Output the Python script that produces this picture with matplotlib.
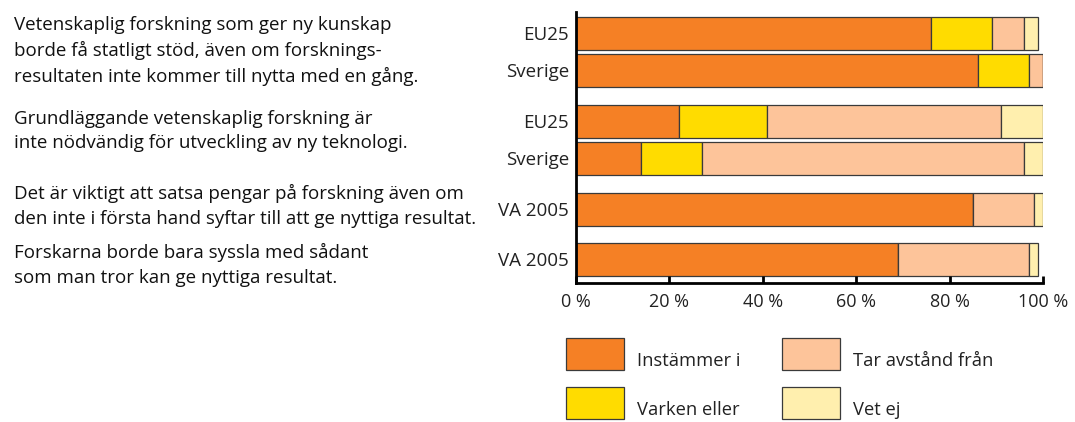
import matplotlib
matplotlib.use("Agg")
import matplotlib.pyplot as plt
from matplotlib.patches import Rectangle

plt.rcParams['font.family'] = ['Open Sans', 'DejaVu Sans']

# Data (percent of answers)
groups = ["EU25", "Sverige", "EU25", "Sverige", "VA 2005", "VA 2005"]
instammer = [76, 86, 22, 14, 85, 69]
varken = [13, 11, 19, 13, 0, 0]
tar_avstand = [7, 3, 50, 69, 13, 28]
vet_ej = [3, 0, 9, 4, 2, 2]
series_names = ["Instämmer i", "Varken eller", "Tar avstånd från", "Vet ej"]
colors = ["#F58025", "#FFDC00", "#FDC49A", "#FFEFAE"]

statements = [
    "Vetenskaplig forskning som ger ny kunskap\nborde få statligt stöd, även om forsknings-\nresultaten inte kommer till nytta med en gång.",
    "Grundläggande vetenskaplig forskning är\ninte nödvändig för utveckling av ny teknologi.",
    "Det är viktigt att satsa pengar på forskning även om\nden inte i första hand syftar till att ge nyttiga resultat.",
    "Forskarna borde bara syssla med sådant\nsom man tror kan ge nyttiga resultat.",
]

W, H = 1075, 422
fig = plt.figure(figsize=(W / 100, H / 100), dpi=100)

# axes placed in pixel terms of the reference
ax_left, ax_right, ax_top, ax_bottom = 576, 1043, 12, 283
ax = fig.add_axes([ax_left / W, 1 - ax_bottom / H,
                   (ax_right - ax_left) / W, (ax_bottom - ax_top) / H])

# bar centres (pixel rows of the reference), bars come in pairs
ypos = [33, 70, 121, 158, 209, 259]
bar_h = 33

left = [0] * len(groups)
for vals, col in zip([instammer, varken, tar_avstand, vet_ej], colors):
    ax.barh(ypos, vals, left=left, height=bar_h, color=col,
            edgecolor="#3a3a3a", linewidth=0.9)
    left = [l + v for l, v in zip(left, vals)]

ax.set_xlim(0, 100)
ax.set_ylim(ax_bottom, ax_top)
ax.set_yticks(ypos)
ax.set_yticklabels(groups, fontsize=13.5, color="#222222")
ax.tick_params(axis="y", length=0, pad=5)
ax.set_xticks([0, 20, 40, 60, 80, 100])
ax.set_xticklabels([f"{t} %" for t in range(0, 101, 20)], fontsize=13,
                   color="#222222")
ax.tick_params(axis="x", direction="in", length=5, width=2, pad=7)
for s in ["top", "right"]:
    ax.spines[s].set_visible(False)
ax.spines["left"].set_linewidth(2)
ax.spines["bottom"].set_linewidth(2)

# statements on the left
text_y = [51, 131, 206, 265]
for txt, y in zip(statements, text_y):
    fig.text(14 / W, 1 - y / H, txt, fontsize=13.5, va="center", ha="left",
             linespacing=1.45, color="#111111")

# legend drawn by hand
lax = fig.add_axes([0, 0, 1, 1])
lax.set_xlim(0, W)
lax.set_ylim(H, 0)
lax.axis("off")
box_x = [566, 566, 782, 782]
box_y = [338, 387, 338, 387]
for name, col, bx, by in zip(series_names, colors, box_x, box_y):
    lax.add_patch(Rectangle((bx, by), 58, 32, facecolor=col,
                            edgecolor="#3a3a3a", linewidth=0.9))
    lax.text(bx + 71, by + 23, name, fontsize=13.2, va="center", ha="left",
             color="#222222")

fig.savefig("out.png", dpi=100)
